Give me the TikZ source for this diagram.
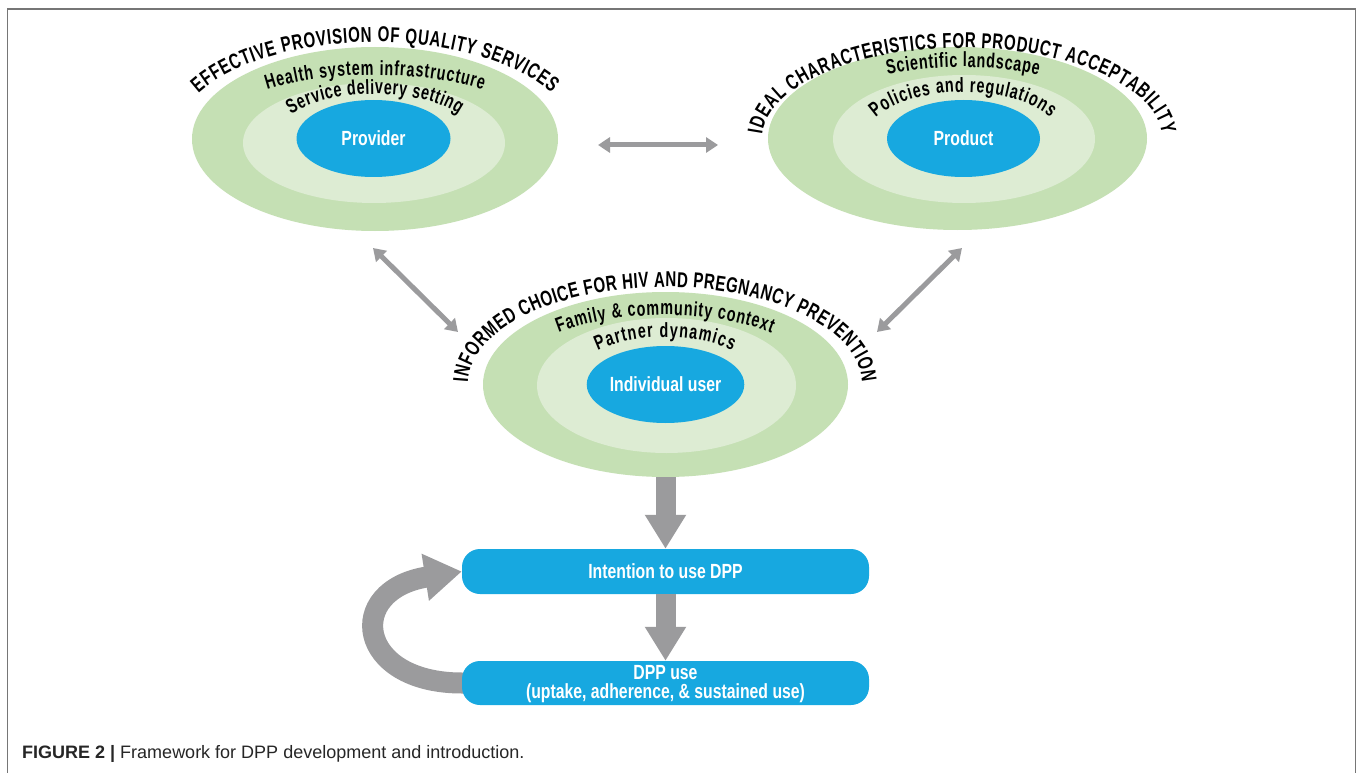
\documentclass[tikz,border=0pt]{standalone}
\usepackage{fontspec}
\setmainfont{Liberation Sans}
\newfontfamily\arcfont{Liberation Sans}[FakeStretch=0.70]
\newfontfamily\boxfont{Liberation Sans}[FakeStretch=0.77]
\usetikzlibrary{shapes.geometric,arrows.meta,decorations.text}
\definecolor{ogreen}{RGB}{197,224,180}
\definecolor{lgreen}{RGB}{221,236,211}
\definecolor{dblue}{RGB}{23,168,224}
\definecolor{agray}{RGB}{155,155,157}
\definecolor{fgray}{RGB}{118,118,118}
\newcommand\arcbig{\arcfont\bfseries\fontsize{21.5}{23}\selectfont}
\newcommand\arcsmall{\arcfont\bfseries\fontsize{20.5}{22}\selectfont}
\pgfdeclarelayer{background}
\pgfsetlayers{background,main}
\begin{document}
\begin{tikzpicture}[x=1pt,y=-1pt,
  outerell/.style={ellipse,fill=ogreen,inner sep=0pt},
  midell/.style={ellipse,fill=lgreen,inner sep=0pt},
  blueell/.style={ellipse,fill=dblue,inner sep=0pt,text=white,
    font=\boxfont\bfseries\fontsize{20.5}{22}\selectfont,
    minimum width=154pt,minimum height=77pt},
  stepbox/.style={rectangle,rounded corners=18pt,fill=dblue,inner sep=0pt,
    minimum width=407pt,text=white,align=center,
    font=\boxfont\bfseries\fontsize{20.5}{19}\selectfont},
  thinarrow/.style={draw=agray,line width=5pt,
    {Triangle[width=15pt,length=12pt]}-{Triangle[width=15pt,length=12pt]}},
  blockarrow/.style={draw=agray,line width=20pt,-{Triangle[width=39pt,length=34pt]}},
  looparrow/.style={draw=agray,line width=21pt,-{Triangle[width=45pt,length=37pt]}},
  arctext/.style={decorate,decoration={text along path,text align={fit to path},text={#1}}}
]
\useasboundingbox (0,0) rectangle (1358,773);
\begin{pgfonlayer}{background}
\fill[white] (0,0) rectangle (1358,773);
\end{pgfonlayer}
\draw[fgray,line width=1.3pt] (7.5,773) -- (7.5,9) -- (1355.5,9) -- (1355.5,773);

% top-left cluster
\node[outerell,minimum width=366pt,minimum height=184pt] (tlo) at (375,139) {};
\node[midell,minimum width=262pt,minimum height=120pt] (tlm) at (374,143) {};
\node[blueell] (tlb) at (373.5,138.5) {Provider};

% top-right cluster
\node[outerell,minimum width=379pt,minimum height=183pt] (tro) at (957.5,138.5) {};
\node[midell,minimum width=262pt,minimum height=128pt] (trm) at (964,139) {};
\node[blueell,minimum width=153pt] (trb) at (963.5,138.5) {Product};

% middle cluster
\node[outerell,minimum width=365pt,minimum height=185pt] (mo) at (665.5,384.5) {};
\node[midell,minimum width=259pt,minimum height=135pt] (mm) at (666.5,385.5) {};
\node[blueell,minimum width=155pt] (mb) at (665.5,384.5) {Individual user};

% boxes
\node[stepbox,minimum height=45pt] (box1) at (665.5,571.5) {Intention to use DPP};
\node[stepbox,minimum height=44pt] (box2) at (665.5,683) {\rule{0pt}{17pt}DPP use\\(uptake, adherence, \& sustained use)};

% curved texts
\path[arctext={|\arcbig|EFFECTIVE PROVISION OF QUALITY SERVICES}]
  (375,139) ++(-152:200 and 97) arc[start angle=-152,end angle=-28,x radius=200,y radius=97];
\path[arctext={|\arcsmall|Health system infrastructure}]
  (375,139) ++(-130:168 and 64) arc[start angle=-130,end angle=-50,x radius=168,y radius=64];
\path[arctext={|\arcsmall|Service delivery setting}]
  (375,139) ++(-147:100 and 45) arc[start angle=-147,end angle=-33,x radius=100,y radius=45];

\path[arctext={|\arcbig|IDEAL CHARACTERISTICS FOR PRODUCT ACCEPTABILITY}]
  (962,139) ++(-177:200 and 91) arc[start angle=-177,end angle=-3,x radius=200,y radius=91];
\path[arctext={|\arcsmall|Scientific landscape}]
  (963,139) ++(-117:166 and 72) arc[start angle=-117,end angle=-63,x radius=166,y radius=72];
\path[arctext={|\arcsmall|Policies and regulations}]
  (963,139) ++(-153:98 and 47) arc[start angle=-153,end angle=-27,x radius=98,y radius=47];

\path[arctext={|\arcbig|INFORMED CHOICE FOR HIV AND PREGNANCY PREVENTION}]
  (665,384) ++(-179:197 and 97) arc[start angle=-179,end angle=-1,x radius=197,y radius=97];
\path[arctext={|\arcsmall|Family {\&} community context}]
  (665,384) ++(-132:159 and 69) arc[start angle=-132,end angle=-48,x radius=159,y radius=69];
\path[arctext={|\arcsmall|Partner dynamics}]
  (665,384) ++(-134:97 and 47) arc[start angle=-134,end angle=-46,x radius=97,y radius=47];

% thin double arrows
\coordinate (hA) at (598,145);
\coordinate (hB) at (718,145);
\coordinate (dLa) at (373,248);
\coordinate (dLb) at (458,332);
\coordinate (dRa) at (962,248);
\coordinate (dRb) at (877,332);
\draw[thinarrow] (hA) -- (hB);
\draw[thinarrow] (dLa) -- (dLb);
\draw[thinarrow] (dRa) -- (dRb);

% block arrows
\draw[blockarrow] (mo.south) -- (box1.north);
\draw[blockarrow] (box1.south) -- (box2.north);

% feedback loop
\begin{pgfonlayer}{background}
\draw[looparrow] ([xshift=15pt]box2.west) -- (box2.west)
  .. controls (356,683) and (344,590) .. (box1.west);
\end{pgfonlayer}

% caption
\node[anchor=base west,inner sep=0pt,font=\fontsize{18}{20}\selectfont,text=black!85] (cap) at (22,758)
  {\textbf{FIGURE 2 |} Framework for DPP development and introduction.};
\end{tikzpicture}
\end{document}
